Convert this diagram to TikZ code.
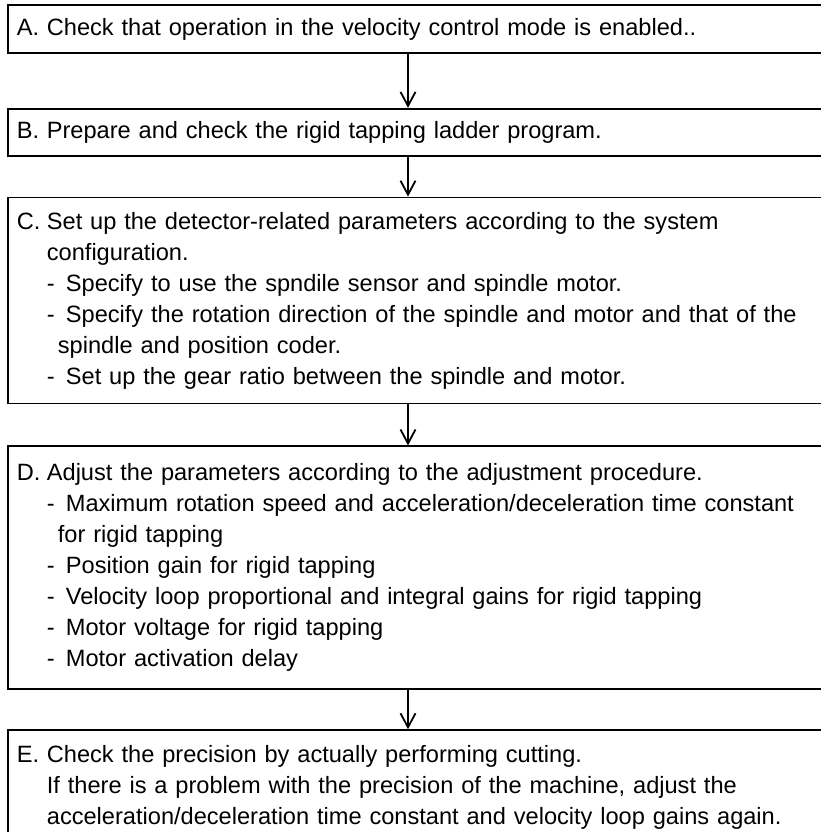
\documentclass[tikz,border=0pt]{standalone}
\usepackage{fontspec}
\setmainfont{Liberation Sans}
\usetikzlibrary{arrows.meta, positioning}
\newcommand{\steplabel}[1]{\makebox[15pt][l]{#1}}
\newcommand{\stepline}{\hspace*{15pt}}
\newcommand{\stepdash}{\hspace*{15pt}\makebox[9.5pt][l]{-}}
\newcommand{\stepwrap}{\hspace*{20.5pt}}

\begin{document}
\begin{tikzpicture}[
  stepbox/.style={rectangle, draw=black, line width=0.9pt, align=left,
                  text width=427.5pt, inner xsep=4.5pt, inner ysep=0pt,
                  font=\fontsize{11.8pt}{15.5pt}\selectfont},
  arrow/.style={-{Straight Barb[length=7pt, width=7.5pt]}, line width=0.9pt}
]
\clip (0,0) rectangle (410.5pt,-416pt);
\coordinate (axis) at (204pt,0);
\node[stepbox, minimum height=24pt, anchor=north west] (A) at (3.5pt,-2pt)
  {\steplabel{A.}Check that operation in the velocity control mode is enabled..};
\node[stepbox, minimum height=23.5pt, below=27pt of A] (B)
  {\steplabel{B.}Prepare and check the rigid tapping ladder program.};
\node[stepbox, minimum height=103pt, below=20pt of B] (C)
  {\steplabel{C.}Set up the detector-related parameters according to the system\\
   \stepline configuration.\\
   \stepdash Specify to use the spndile sensor and spindle motor.\\
   \stepdash Specify the rotation direction of the spindle and motor and that of the\\
   \stepwrap spindle and position coder.\\
   \stepdash Set up the gear ratio between the spindle and motor.};
\node[stepbox, minimum height=121.5pt, below=20.5pt of C] (D)
  {\steplabel{D.}Adjust the parameters according to the adjustment procedure.\\
   \stepdash Maximum rotation speed and acceleration/deceleration time constant\\
   \stepwrap for rigid tapping\\
   \stepdash Position gain for rigid tapping\\
   \stepdash Velocity loop proportional and integral gains for rigid tapping\\
   \stepdash Motor voltage for rigid tapping\\
   \stepdash Motor activation delay};
\node[stepbox, minimum height=57pt, below=19.5pt of D] (E)
  {\steplabel{E.}Check the precision by actually performing cutting.\\
   \stepline If there is a problem with the precision of the machine, adjust the\\
   \stepline acceleration/deceleration time constant and velocity loop gains again.};
\draw[arrow] (A.south -| axis) -- (B.north -| axis);
\draw[arrow] (B.south -| axis) -- (C.north -| axis);
\draw[arrow] (C.south -| axis) -- (D.north -| axis);
\draw[arrow] (D.south -| axis) -- (E.north -| axis);
\end{tikzpicture}
\end{document}
